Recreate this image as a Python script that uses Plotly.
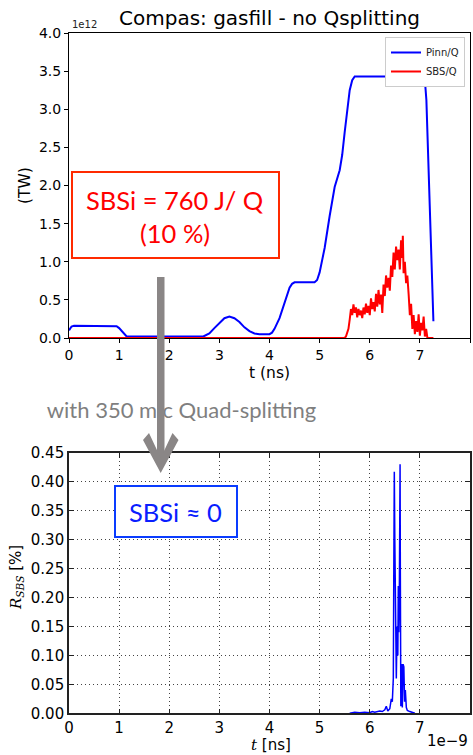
import plotly.graph_objects as go

# ---- upper panel: laser power and SBS power per quad (units of 1e12 W) ----
t_pinn = [0.0, 0.05, 0.1, 0.9, 0.95, 1.0, 1.05, 1.1, 1.15, 2.68, 2.8, 2.9, 3.0, 3.1,
          3.2, 3.3, 3.4, 3.5, 3.6, 3.7, 3.8, 4.0, 4.05, 4.1, 4.2, 4.3, 4.4, 4.45, 4.5,
          4.9, 4.95, 5.0, 5.05, 5.1, 5.2, 5.3, 5.4, 5.45, 5.5, 5.55, 5.6, 5.65, 5.7,
          7.05, 7.1, 7.13, 7.27]
pinn_q = [0.10, 0.15, 0.16, 0.16, 0.155, 0.13, 0.09, 0.05, 0.02, 0.02, 0.06, 0.13, 0.20,
          0.26, 0.28, 0.26, 0.21, 0.14, 0.09, 0.06, 0.05, 0.05, 0.07, 0.12, 0.26, 0.46,
          0.66, 0.71, 0.73, 0.73, 0.76, 0.86, 1.00, 1.18, 1.60, 1.98, 2.20, 2.40, 2.70,
          3.00, 3.25, 3.38, 3.43, 3.43, 3.38, 3.12, 0.22]

t_sbs = [0.0, 5.5, 5.525, 5.55, 5.575, 5.6, 5.625, 5.65, 5.675, 5.7, 5.725, 5.75, 5.775,
         5.8, 5.825, 5.85, 5.875, 5.9, 5.925, 5.95, 5.975, 6.0, 6.025, 6.05, 6.075, 6.1,
         6.125, 6.15, 6.175, 6.2, 6.225, 6.25, 6.275, 6.3, 6.325, 6.35, 6.375, 6.4, 6.425,
         6.45, 6.475, 6.5, 6.525, 6.55, 6.575, 6.6, 6.625, 6.65, 6.66, 6.675, 6.7, 6.725,
         6.75, 6.775, 6.8, 6.825, 6.85, 6.875, 6.9, 6.925, 6.95, 6.975, 7.0, 7.025, 7.05,
         7.075, 7.1, 7.125, 7.15, 7.175, 7.27]
sbs_q = [0.0, 0.0, 0.02, 0.08, 0.12, 0.24, 0.38, 0.30, 0.44, 0.33, 0.40, 0.27, 0.38,
         0.30, 0.36, 0.26, 0.40, 0.31, 0.45, 0.33, 0.42, 0.30, 0.52, 0.38, 0.47, 0.35,
         0.58, 0.41, 0.63, 0.44, 0.57, 0.33, 0.70, 0.55, 0.82, 0.66, 0.79, 0.62, 0.95,
         0.80, 1.12, 0.90, 1.20, 1.02, 1.16, 0.90, 1.28, 1.05, 1.34, 0.85, 1.00, 0.72,
         0.82, 0.58, 0.30, 0.45, 0.12, 0.30, 0.05, 0.22, 0.08, 0.31, 0.03, 0.20, 0.10,
         0.28, 0.02, 0.12, 0.0, 0.0, 0.0]

# ---- lower panel: SBS reflectivity with quad splitting (time in ns, R in %) ----
t_rsbs_ns = [5.6, 5.7, 5.8, 5.9, 6.0, 6.05, 6.1, 6.2, 6.25, 6.3, 6.33, 6.36, 6.4, 6.43,
             6.45, 6.47, 6.48, 6.49, 6.50, 6.51, 6.52, 6.53, 6.545, 6.56, 6.57, 6.58,
             6.59, 6.60, 6.605, 6.61, 6.62, 6.635, 6.65, 6.665, 6.68, 6.695, 6.71, 6.73,
             6.75, 6.8, 6.85, 6.9]
r_sbs = [0.0, 0.002, 0.001, 0.002, 0.001, 0.003, 0.002, 0.004, 0.003, 0.006, 0.012,
         0.004, 0.008, 0.025, 0.02, 0.06, 0.25, 0.417, 0.30, 0.22, 0.12, 0.06, 0.15,
         0.10, 0.22, 0.14, 0.20, 0.28, 0.43, 0.25, 0.012, 0.085, 0.01, 0.085, 0.08,
         0.02, 0.04, 0.01, 0.005, 0.003, 0.001, 0.0]

x_ticks = [0, 1, 2, 3, 4, 5, 6, 7, 8]

W, H = 473, 755
XD = [69 / W, 470 / W]
TOP_D = [(H - 338) / H, (H - 33) / H]
BOT_D = [(H - 713.3) / H, (H - 452.7) / H]

fig = go.Figure()

fig.add_trace(go.Scatter(x=t_pinn, y=pinn_q, mode="lines", name="Pinn/Q",
                         line=dict(color="#0000ff", width=2), xaxis="x", yaxis="y"))
fig.add_trace(go.Scatter(x=t_sbs, y=sbs_q, mode="lines", name="SBS/Q",
                         line=dict(color="#ff0000", width=2), xaxis="x", yaxis="y"))
fig.add_trace(go.Scatter(x=[t * 1e-9 for t in t_rsbs_ns], y=r_sbs, mode="lines",
                         showlegend=False, line=dict(color="#0000ff", width=1.5),
                         xaxis="x2", yaxis="y2"))

# overlay layer in pixel coordinates for the annotation graphics
fig.add_trace(go.Scatter(x=[181.5], y=[412], mode="text",
                         text=["with 350 mic Quad-splitting"],
                         textfont=dict(family="Lato", size=22, color="#7f7f7f"),
                         showlegend=False, hoverinfo="skip", cliponaxis=False,
                         xaxis="x3", yaxis="y3"))

tick_font_top = dict(family="DejaVu Sans", size=14, color="black")
tick_font_bot = dict(family="DejaVu Sans", size=15, color="black")

fig.update_layout(
    width=W, height=H,
    margin=dict(l=0, r=0, t=0, b=0),
    paper_bgcolor="white", plot_bgcolor="rgba(0,0,0,0)",
    showlegend=True,
    legend=dict(x=465 / W, y=(H - 37) / H, xanchor="right", yanchor="top",
                bgcolor="white", bordercolor="#cccccc", borderwidth=1,
                font=dict(family="DejaVu Sans", size=10, color="#222"),
                itemwidth=30, tracegroupgap=0),
    xaxis=dict(domain=XD, anchor="y", range=[0, 8], tickvals=x_ticks,
               ticks="outside", ticklen=4, tickcolor="black", showline=True,
               linecolor="black", linewidth=1, mirror=True, showgrid=False,
               zeroline=False, tickfont=tick_font_top, automargin=False),
    yaxis=dict(domain=TOP_D, anchor="x", range=[0, 4], dtick=0.5, tickformat=".1f",
               ticks="outside", ticklen=4, tickcolor="black", showline=True,
               linecolor="black", linewidth=1, mirror=True, showgrid=False,
               zeroline=False, tickfont=tick_font_top, automargin=False),
    xaxis2=dict(domain=XD, anchor="y2", range=[0, 8e-9],
                tickvals=[t * 1e-9 for t in x_ticks], ticktext=[str(t) for t in x_ticks],
                ticks="inside", ticklen=5, tickcolor="#222", showline=True,
                linecolor="#222", linewidth=1.6, mirror="allticks",
                showgrid=True, gridcolor="#444", griddash="1px,3px", gridwidth=1,
                zeroline=False, tickfont=tick_font_bot, automargin=False),
    yaxis2=dict(domain=BOT_D, anchor="x2", range=[0, 0.45], dtick=0.05,
                tickformat=".2f", ticks="inside", ticklen=5, tickcolor="#222",
                showline=True, linecolor="#222", linewidth=1.6, mirror="allticks",
                showgrid=True, gridcolor="#444", griddash="1px,3px", gridwidth=1,
                zeroline=False, tickfont=tick_font_bot, automargin=False),
    xaxis3=dict(domain=[0, 1], anchor="y3", range=[0, W], visible=False,
                fixedrange=True),
    yaxis3=dict(domain=[0, 1], anchor="x3", range=[H, 0], visible=False,
                fixedrange=True),
)

ARROW = "#8a8686"
shapes = [
    # SBSi boxes
    dict(type="rect", xref="x3", yref="y3", x0=72, x1=279, y0=172, y1=258,
         line=dict(color="#ff2a00", width=2), fillcolor="white", layer="above"),
    dict(type="rect", xref="x3", yref="y3", x0=115, x1=237, y0=486, y1=537,
         line=dict(color="#0a3cff", width=2), fillcolor="white", layer="above"),
    # arrow shaft and head
    dict(type="rect", xref="x3", yref="y3", x0=157, x1=164.5, y0=277, y1=462,
         line=dict(width=0), fillcolor=ARROW, layer="above"),
    dict(type="path", xref="x3", yref="y3",
         path="M 143 440 L 149 433 L 160.7 458 L 172.5 433 L 178.5 440 L 160.7 473 Z",
         line=dict(width=0), fillcolor=ARROW, layer="above"),
]
fig.update_layout(shapes=shapes)

ann = [
    dict(text="Compas: gasfill - no Qsplitting", x=269 / W, y=(H - 18) / H,
         font=dict(family="DejaVu Sans", size=20, color="black")),
    dict(text="1e12", x=70 / W, y=(H - 24) / H, xanchor="left",
         font=dict(family="DejaVu Sans", size=10, color="#222")),
    dict(text="t (ns)", x=269 / W, y=(H - 373) / H,
         font=dict(family="DejaVu Sans", size=15.5, color="black")),
    dict(text="(TW)", x=25 / W, y=(H - 186) / H, textangle=-90,
         font=dict(family="DejaVu Sans", size=15.5, color="black")),
    dict(text="SBSi = 760 J/ Q", x=175 / W, y=(H - 200) / H,
         font=dict(family="Lato", size=25.5, color="#ff0000")),
    dict(text="(10 %)", x=175 / W, y=(H - 233) / H,
         font=dict(family="Lato", size=25.5, color="#ff0000")),
    dict(text="SBSi ≈ 0", x=175 / W, y=(H - 512) / H,
         font=dict(family="Lato", size=25.5, color="#0a1eff")),
    dict(text="<span style='font-family:DejaVu Serif'><i>t</i></span> [ns]",
         x=271 / W, y=(H - 745) / H,
         font=dict(family="DejaVu Sans", size=15, color="black")),
    dict(text="1e\u22129", x=470 / W, y=(H - 741) / H, xanchor="right",
         font=dict(family="DejaVu Sans", size=15, color="black")),
    dict(text="<span style='font-family:DejaVu Serif'><i>R</i><sub><i>SBS</i></sub></span> [%]",
         x=16 / W, y=(H - 578) / H, textangle=-90,
         font=dict(family="DejaVu Sans", size=15, color="black")),
]
for a in ann:
    a.setdefault("xref", "paper")
    a.setdefault("yref", "paper")
    a.setdefault("showarrow", False)
    a.setdefault("xanchor", "center")
    a.setdefault("yanchor", "middle")
fig.update_layout(annotations=ann)

fig.write_html("out.html")
